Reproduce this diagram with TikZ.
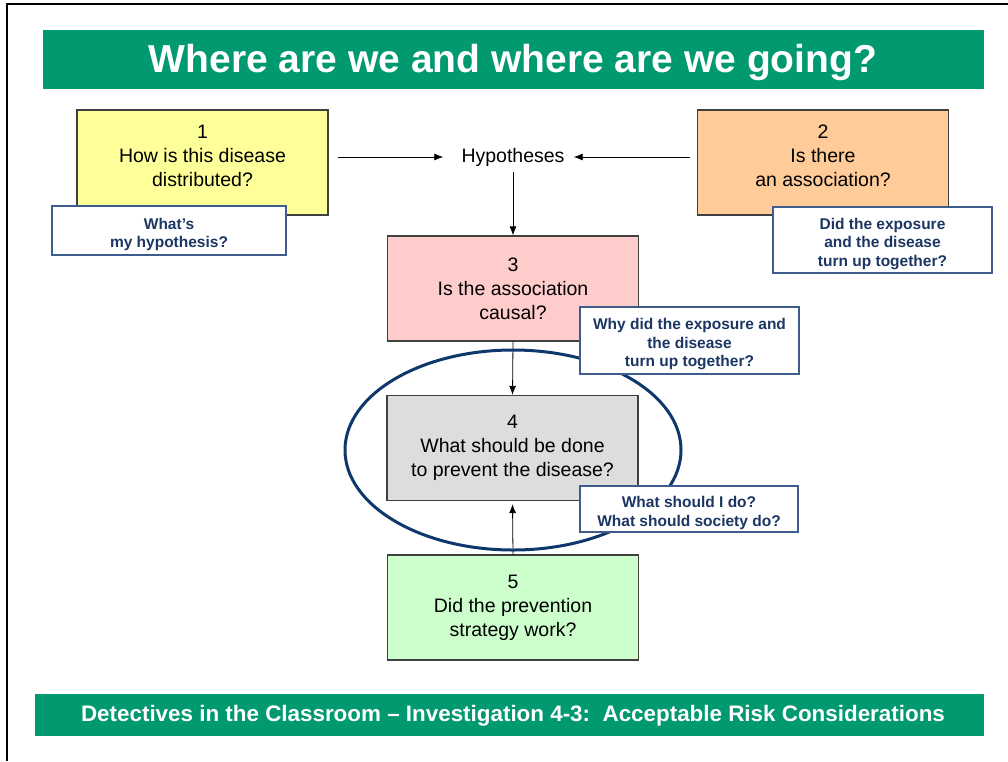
\documentclass[tikz,border=0pt]{standalone}
\usepackage{fontspec}
\setmainfont{Liberation Sans}
\usetikzlibrary{arrows.meta}

\definecolor{slidegreen}{RGB}{0,153,112}
\definecolor{boxline}{RGB}{64,64,64}
\definecolor{noteline}{RGB}{62,92,140}
\definecolor{notetext}{RGB}{28,54,100}
\definecolor{ringblue}{RGB}{14,56,108}
\definecolor{boxyellow}{RGB}{255,255,153}
\definecolor{boxorange}{RGB}{255,204,153}
\definecolor{boxpink}{RGB}{255,204,204}
\definecolor{boxgray}{RGB}{221,221,221}
\definecolor{boxgreen}{RGB}{204,255,204}
\newcommand{\notestrut}{\rule{0pt}{19pt}}

\begin{document}
\begin{tikzpicture}[x=1pt, y=-1pt,
  box/.style={draw=boxline, line width=1.3pt, minimum width=251pt,
    minimum height=105pt, align=center, font=\fontsize{19.5}{24}\selectfont},
  note/.style={draw=noteline, line width=1.2pt, fill=white, inner sep=0pt,
    align=center, text=notetext, font=\bfseries\fontsize{15.5}{18.5}\selectfont},
  arr/.style={-{Latex[length=9pt,width=7pt]}, line width=0.8pt}]
  \useasboundingbox (0,0) rectangle (1008,761);

  % Frame and bars
  \draw[line width=2.5pt] (7,761) -- (7,4) -- (1008,4);
  \fill[slidegreen] (43,30) rectangle (984,89);
  \node[text=white, font=\bfseries\fontsize{39}{44}\selectfont] (title) at (513,62)
    {Where are we and where are we going?};
  \fill[slidegreen] (35,694) rectangle (984,736);
  \node[text=white, font=\bfseries\fontsize{22.4}{26}\selectfont] (foot) at (513,716)
    {Detectives in the Classroom – Investigation 4-3:\ \ Acceptable Risk Considerations};

  % Steps
  \node[box, fill=boxyellow] (b1) at (202.5,162.5)
    {1\\How is this disease\\ distributed?\rule[-14pt]{0pt}{14pt}};
  \node[box, fill=boxorange] (b2) at (823,162.5)
    {2\\Is there\\an association?\rule[-14pt]{0pt}{14pt}};
  \node[box, fill=boxpink] (b3) at (513,288.5)
    {3\\Is the association\\ causal?};
  \node[box, fill=boxgray] (b4) at (512.5,448)
    {4\\What should be done\\to prevent the disease?};
  \node[box, fill=boxgreen] (b5) at (513,607.5)
    {5\\Did the prevention\\ strategy work?};
  \node[inner sep=0pt, font=\fontsize{19.5}{24}\selectfont] (hyp) at (513,157) {Hypotheses};

  % Arrows
  \draw[arr] (b1.east |- hyp) ++(9,0) -- ([xshift=-18pt]hyp.west);
  \draw[arr] (b2.west |- hyp) ++(-7,0) -- ([xshift=9pt]hyp.east);
  \draw[arr] ([yshift=-6pt]hyp.south) -- (b3.north);
  \draw[arr] (b3.south) -- (b4.north);
  \draw[arr] (b5.north) -- ([yshift=-3pt]b4.south);

  % Ring round step 4
  \draw[ringblue, line width=3pt] (513,450) ellipse [x radius=168, y radius=100];

  % Questions
  \node[note, minimum width=234pt, minimum height=49pt] (q1) at (169,230.5)
    {\notestrut What's\\my hypothesis?};
  \node[note, minimum width=219pt, minimum height=66pt] (q2) at (882.5,240)
    {\notestrut Did the exposure\\and the disease\\turn up together?};
  \node[note, minimum width=219pt, minimum height=67pt] (q3) at (689.5,340.5)
    {\notestrut Why did the exposure and\\the disease\\turn up together?};
  \node[note, minimum width=218pt, minimum height=46pt] (q4) at (689,509)
    {\notestrut What should I do?\\What should society do?};
\end{tikzpicture}
\end{document}
